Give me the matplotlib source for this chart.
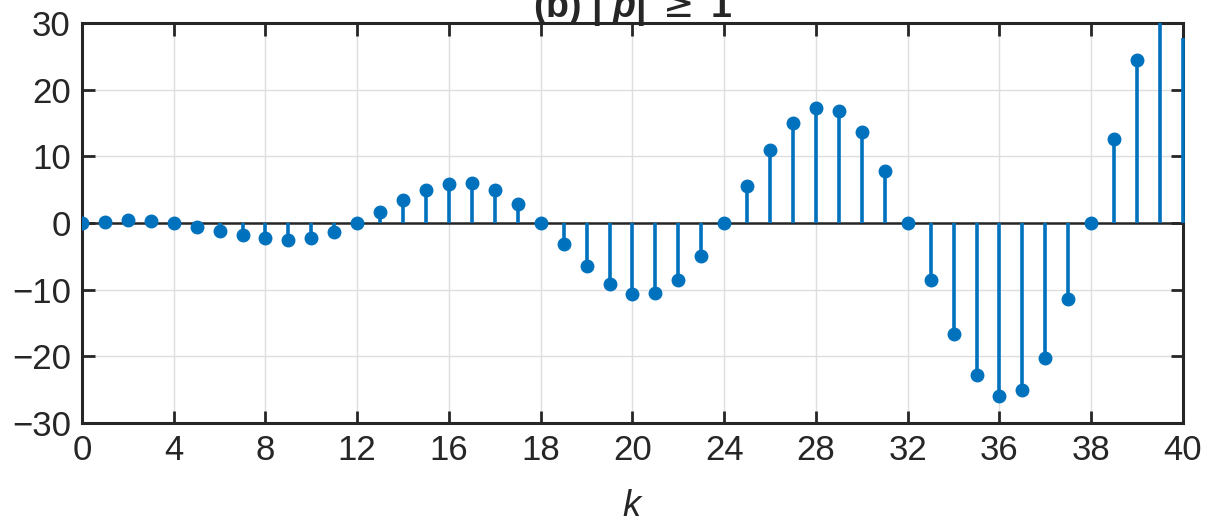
import matplotlib
matplotlib.use("Agg")
import matplotlib.pyplot as plt
from matplotlib.patches import Rectangle
import numpy as np

plt.rcParams['font.family'] = ['Liberation Sans', 'DejaVu Sans']
plt.rcParams['mathtext.fontset'] = 'custom'
plt.rcParams['mathtext.it'] = 'Liberation Sans:italic'
plt.rcParams['mathtext.bf'] = 'Liberation Sans:bold'
plt.rcParams['mathtext.bfit'] = 'Liberation Sans:bold:italic'

# sample index and response values
k = np.arange(0, 49)
y = [0.0, 0.2, 0.4, 0.3, 0.05, -0.6, -1.2, -1.8, -2.3, -2.5, -2.2, -1.4,
     0.0, 1.7, 3.5, 5.0, 5.9, 6.0, 5.0, 2.9,
     0.0, -3.2, -6.5, -9.2, -10.6, -10.5, -8.5, -4.9,
     0.0, 5.6, 10.9, 15.0, 17.2, 16.8, 13.6, 7.8,
     0.0, -8.5, -16.6, -22.8, -26.0, -25.1, -20.2, -11.4,
     0.0, 12.6, 24.4, 34.0, 27.8]
y = np.array(y)

xtick_pos = np.arange(0, 49, 4)
xtick_labels = ['0', '4', '8', '12', '16', '18', '20', '24', '28', '32', '36', '38', '40']
ytick_pos = [-30, -20, -10, 0, 10, 20, 30]

blue = '#0072BD'
dark = '#262626'

fig = plt.figure(figsize=(12.07, 5.32), dpi=100)
ax = fig.add_axes([0.0679, 0.2049, 0.9122, 0.7519])

ax.grid(True, color='#dedede', linewidth=1.0, zorder=0)
ax.axhline(0, color=dark, linewidth=1.8, zorder=2)
stems = ax.vlines(k, 0, y, color=blue, linewidth=2.6, zorder=6)
# let the last stem sit fully on the right edge, still clipped at top/bottom
stems.set_clip_path(Rectangle((-0.01, 0), 1.02, 1, transform=ax.transAxes))
inside = k < 48
ax.plot(k[inside], y[inside], 'o', color=blue, markersize=9, zorder=7)

ax.set_xlim(0, 48)
ax.set_ylim(-30, 30)
ax.set_xticks(xtick_pos)
ax.set_xticklabels(xtick_labels)
ax.set_yticks(ytick_pos)
ax.tick_params(direction='in', length=9, width=2, colors=dark, labelsize=25,
               top=True, right=True, pad=8)
for s in ax.spines.values():
    s.set_color(dark)
    s.set_linewidth(2.2)
    s.set_zorder(5)

ax.set_xlabel('$k$', fontsize=26, color=dark, labelpad=16)
ax.set_title(r'(b) | $\mathbfit{p}$| $\geq$ 1', fontsize=27, fontweight='bold',
             color=dark, pad=4)

fig.savefig('out.png', dpi=100)
